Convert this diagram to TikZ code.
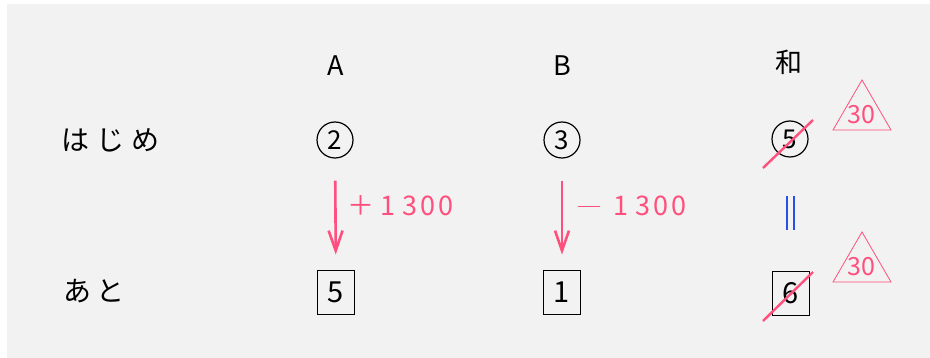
\documentclass[tikz,border=0pt]{standalone}
\usepackage{fontspec}
\setmainfont{Noto Sans CJK JP}
\definecolor{diffPink}{RGB}{255, 80, 125}
\definecolor{eqBlue}{RGB}{40, 80, 230}
\definecolor{bgGray}{RGB}{242, 242, 242}
\usetikzlibrary{arrows.meta, positioning, calc}

\begin{document}
\begin{tikzpicture}[x=1pt, y=-1pt,
    rowlabel/.style={font=\fontsize{28}{28}\selectfont, anchor=west},
    colhead/.style={font=\fontsize{27}{27}\selectfont},
    circnum/.style={draw, circle, line width=1.2pt, minimum size=36pt, inner sep=0pt, font=\fontsize{26}{26}\selectfont},
    boxnum/.style={draw, line width=0.9pt, minimum width=37pt, minimum height=44pt, inner sep=0pt, font=\fontsize{29}{29}\selectfont},
    change/.style={draw=diffPink, line width=2.6pt, -{Straight Barb[length=20pt, width=14pt]}, shorten <=22pt, shorten >=15pt},
    changetext/.style={text=diffPink, font=\fontsize{27}{27}\selectfont, anchor=west},
    strike/.style={draw=diffPink, line width=2.4pt},
    tri/.style={draw=diffPink, line width=0.8pt},
    trinum/.style={text=diffPink, font=\fontsize{25}{25}\selectfont}
  ]
  \useasboundingbox (0,0) rectangle (930,358);
  \fill[bgGray] (7,4) rectangle (930,358);

  % column heads
  \node[colhead] (hA) at (336,66) {A};
  \node[colhead] (hB) at (562,66) {B};
  \node[colhead] (hSum) at (789,62) {和};

  % rows
  \node[rowlabel] (start) at (58,140) {は\hspace{7pt}じ\hspace{7pt}め};
  \node[rowlabel] (after) at (60,291) {あ\hspace{5pt}と};

  \node[circnum] (a1) at (335,140) {2};
  \node[circnum] (b1) at (562,140) {3};
  \node[circnum] (s1) at (790,139) {5};

  \node[boxnum] (a2) at (336,292) {5};
  \node[boxnum] (b2) at (562,292) {1};
  \node[boxnum] (s2) at (791,293) {6};

  % changes
  \draw[change] (a1) -- (a2);
  \draw[change] (b1) -- (b2);
  \node[changetext] at (344,206) {＋\hspace{6pt}1\hspace{7pt}3\hspace{3pt}0\hspace{3pt}0};
  \node[changetext] at (574,206) {\rule[8.5pt]{22pt}{1.2pt}\hspace{14pt}1\hspace{7pt}3\hspace{3pt}0\hspace{3pt}0};

  \draw[eqBlue, line width=1.2pt] (787,196) -- (787,230) (794,196) -- (794,230);

  % sum crossed out
  \draw[strike] ($(s1.center)+(-27,29)$) -- ($(s1.center)+(23,-19)$);
  \draw[strike] ($(s2.center)+(-28,28)$) -- ($(s2.center)+(22,-21)$);

  \draw[tri] (862,80) -- (891,130) -- (833,130) -- cycle;
  \node[trinum] (t1) at (861,115) {30};
  \draw[tri] (862,232) -- (891,282) -- (833,282) -- cycle;
  \node[trinum] (t2) at (861,267) {30};
\end{tikzpicture}
\end{document}
